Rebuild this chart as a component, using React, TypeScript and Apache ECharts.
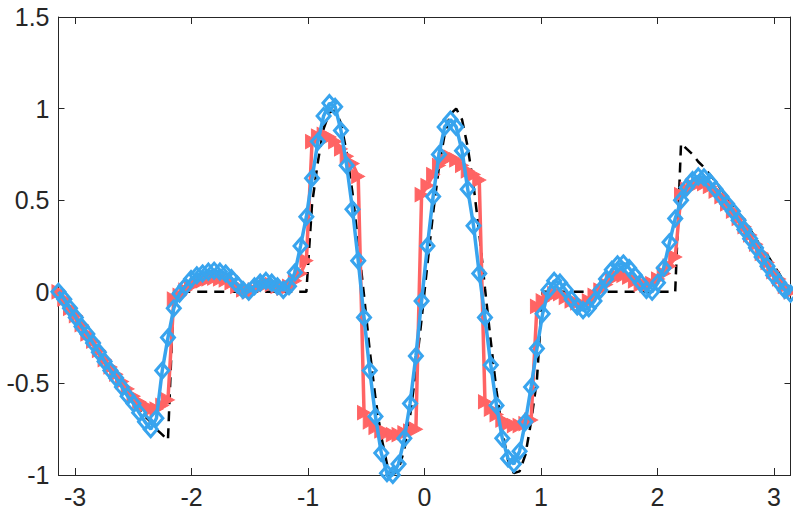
import React, { useEffect, useRef } from "react";
import * as echarts from "echarts";

// sample positions (x from -pi to pi)
const X = [
  -3.142, -3.092, -3.043, -2.993, -2.944, -2.894, -2.845, -2.795, -2.746, -2.696,
  -2.647, -2.597, -2.548, -2.498, -2.449, -2.399, -2.35, -2.301, -2.251, -2.202,
  -2.152, -2.103, -2.053, -2.004, -1.954, -1.905, -1.855, -1.806, -1.756, -1.707,
  -1.657, -1.608, -1.558, -1.509, -1.459, -1.41, -1.361, -1.311, -1.262, -1.212,
  -1.163, -1.113, -1.064, -1.014, -0.965, -0.915, -0.866, -0.816, -0.767, -0.717,
  -0.668, -0.618, -0.569, -0.519, -0.47, -0.421, -0.371, -0.322, -0.272, -0.223,
  -0.173, -0.124, -0.074, -0.025,
  0.025, 0.074, 0.124, 0.173, 0.223, 0.272, 0.322, 0.371, 0.421, 0.47,
  0.519, 0.569, 0.618, 0.668, 0.717, 0.767, 0.816, 0.866, 0.915, 0.965,
  1.014, 1.064, 1.113, 1.163, 1.212, 1.262, 1.311, 1.361, 1.41, 1.459,
  1.509, 1.558, 1.608, 1.657, 1.707, 1.756, 1.806, 1.855, 1.905, 1.954,
  2.004, 2.053, 2.103, 2.152, 2.202, 2.251, 2.301, 2.35, 2.399, 2.449,
  2.498, 2.548, 2.597, 2.647, 2.696, 2.746, 2.795, 2.845, 2.894, 2.944,
  2.993, 3.043, 3.092, 3.142,
];

// black dashed target
const TARGET = [
  0, -0.05, -0.1, -0.15, -0.2, -0.24, -0.29, -0.34, -0.39, -0.43,
  -0.47, -0.52, -0.56, -0.6, -0.64, -0.68, -0.71, -0.75, -0.78, -0.81,
  0, 0, 0, 0, 0, 0, 0, 0, 0, 0, 0, 0, 0, 0, 0, 0, 0, 0, 0, 0, 0, 0, 0, 0,
  0.48, 0.71, 0.89, 0.98, 0.99, 0.92, 0.76, 0.54, 0.27, -0.02,
  -0.32, -0.58, -0.79, -0.94, -1.0, -0.97, -0.86, -0.68, -0.43, -0.15,
  0.15, 0.43, 0.68, 0.86, 0.97, 1.0, 0.94, 0.79, 0.58, 0.32,
  0.02, -0.27, -0.54, -0.76, -0.92, -0.99, -0.98, -0.89, -0.71, -0.48,
  0, 0, 0, 0, 0, 0, 0, 0, 0, 0, 0, 0, 0, 0, 0, 0, 0, 0, 0, 0, 0, 0, 0, 0,
  0.81, 0.78, 0.75, 0.71, 0.68, 0.64, 0.6, 0.56, 0.52, 0.47,
  0.43, 0.39, 0.34, 0.29, 0.24, 0.2, 0.15, 0.1, 0.05, 0,
];

// red series (right-pointing triangles)
const RED = [
  0, -0.04, -0.09, -0.13, -0.18, -0.23, -0.27, -0.32, -0.37, -0.41,
  -0.45, -0.49, -0.53, -0.57, -0.6, -0.62, -0.64, -0.64, -0.62, -0.59,
  -0.04, -0.02, 0.01, 0.03, 0.05, 0.06, 0.07, 0.075, 0.07, 0.065,
  0.05, 0.03, 0.01, 0, 0.01, 0.03, 0.04, 0.04, 0.03, 0.02,
  0.03, 0.06, 0.1, 0.17,
  0.82, 0.85, 0.86, 0.845, 0.82, 0.78, 0.74, 0.7, 0.63,
  -0.66, -0.71, -0.74, -0.76, -0.77, -0.78, -0.78, -0.77, -0.76, -0.75,
  0.53, 0.58, 0.64, 0.69, 0.72, 0.735, 0.72, 0.69, 0.66, 0.64, 0.61,
  -0.6, -0.64, -0.67, -0.7, -0.72, -0.73, -0.73, -0.72, -0.7,
  -0.08, -0.05, -0.03, -0.01, -0.01, -0.03, -0.05, -0.06, -0.07, -0.05,
  -0.02, 0.01, 0.04, 0.07, 0.085, 0.09, 0.08, 0.06, 0.04, 0.035,
  0.045, 0.07, 0.1, 0.14, 0.19,
  0.53, 0.56, 0.58, 0.59, 0.59, 0.575, 0.55, 0.52, 0.48, 0.44,
  0.4, 0.355, 0.31, 0.26, 0.21, 0.16, 0.11, 0.07, 0.03, 0,
];

// blue series (diamonds)
const BLUE = [
  0, -0.04, -0.09, -0.14, -0.19, -0.23, -0.28, -0.33, -0.38, -0.43,
  -0.47, -0.52, -0.57, -0.61, -0.66, -0.71, -0.75, -0.69, -0.43, -0.25,
  -0.09, -0.01, 0.03, 0.07, 0.09, 0.1, 0.11, 0.115, 0.11, 0.1,
  0.075, 0.04, 0.01, 0, 0.03, 0.05, 0.06, 0.05, 0.03, 0.01,
  0.03, 0.105, 0.25, 0.41,
  0.62, 0.82, 0.96, 1.03, 1.01, 0.88, 0.69, 0.45, 0.17,
  -0.14, -0.43, -0.68, -0.88, -0.99, -1.0, -0.94, -0.8, -0.61, -0.35, -0.05,
  0.25, 0.52, 0.75, 0.9, 0.94, 0.9, 0.77, 0.56, 0.36, 0.1,
  -0.14, -0.4, -0.62, -0.8, -0.91, -0.94, -0.87, -0.71, -0.52, -0.31,
  -0.12, 0.01, 0.06, 0.05, 0.01, -0.04, -0.08, -0.1, -0.09, -0.05,
  0.01, 0.07, 0.12, 0.15, 0.155, 0.13, 0.09, 0.05, 0.01, 0,
  0.05, 0.13, 0.27, 0.4,
  0.5, 0.57, 0.61, 0.63, 0.625, 0.6, 0.56, 0.52, 0.48, 0.44,
  0.39, 0.34, 0.29, 0.24, 0.19, 0.14, 0.09, 0.05, 0.01, -0.01,
];

const X_TICKS = [-3, -2, -1, 0, 1, 2, 3];
const Y_MIN = -1;
const Y_MAX = 1.5;
const Y_STEP = 0.5;

const AXIS_COLOR = "#262626";
const FONT = "'Liberation Sans', Arial, Helvetica, sans-serif";
const RED_COLOR = "#FF6464";
const BLUE_COLOR = "#38A4EE";

export default function App() {
  const ref = useRef<HTMLDivElement>(null);

  useEffect(() => {
    if (!ref.current) return;
    const chart = echarts.init(ref.current, null, { renderer: "svg" });
    const pairs = (ys: number[]) => X.map((x, i) => [x, ys[i]]);
    const lineStyle = { color: AXIS_COLOR, width: 1 };

    const xBase = {
      type: "value" as const,
      min: -Math.PI,
      max: Math.PI,
      splitLine: { show: false },
      axisLine: { show: true, onZero: false, lineStyle },
    };
    const yBase = {
      type: "value" as const,
      min: Y_MIN,
      max: Y_MAX,
      interval: Y_STEP,
      splitLine: { show: false },
      axisLine: { show: true, onZero: false, lineStyle },
    };

    chart.setOption({
      animation: false,
      grid: { left: 58.5, right: 2.5, top: 17, bottom: 35, containLabel: false },
      xAxis: [
        {
          ...xBase,
          position: "bottom",
          axisTick: { show: true, inside: true, length: 7, customValues: X_TICKS, lineStyle },
          axisLabel: {
            show: true,
            customValues: X_TICKS,
            color: AXIS_COLOR,
            fontSize: 25,
            fontFamily: FONT,
            margin: 9,
          },
        },
        {
          ...xBase,
          position: "top",
          axisTick: { show: true, inside: true, length: 7, customValues: X_TICKS, lineStyle },
          axisLabel: { show: false },
        },
      ],
      yAxis: [
        {
          ...yBase,
          position: "left",
          axisTick: { show: true, inside: true, length: 6, lineStyle },
          axisLabel: {
            show: true,
            color: AXIS_COLOR,
            fontSize: 25,
            fontFamily: FONT,
            margin: 9,
          },
        },
        {
          ...yBase,
          position: "right",
          axisTick: { show: true, inside: true, length: 6, lineStyle },
          axisLabel: { show: false },
        },
      ],
      series: [
        {
          type: "line",
          name: "target",
          data: pairs(TARGET),
          clip: false,
          silent: true,
          z: 2,
          showSymbol: false,
          symbol: "none",
          lineStyle: { color: "#000000", width: 2.5, type: [10, 7] },
        },
        {
          type: "line",
          name: "red",
          data: pairs(RED),
          clip: false,
          silent: true,
          z: 3,
          lineStyle: { color: RED_COLOR, width: 3.5 },
          symbol: "triangle",
          symbolRotate: -90,
          symbolSize: [14, 13],
          itemStyle: { color: RED_COLOR, borderColor: RED_COLOR, borderWidth: 1 },
        },
        {
          type: "line",
          name: "blue",
          data: pairs(BLUE),
          clip: false,
          silent: true,
          z: 4,
          lineStyle: { color: BLUE_COLOR, width: 3.5 },
          symbol: "diamond",
          symbolSize: [13, 15],
          itemStyle: { color: "rgba(255,255,255,0)", borderColor: BLUE_COLOR, borderWidth: 3 },
        },
      ],
    });

    return () => chart.dispose();
  }, []);

  return (
    <div
      ref={ref}
      style={{ position: "fixed", left: 0, top: 0, width: 793, height: 510, background: "#fff" }}
    />
  );
}
